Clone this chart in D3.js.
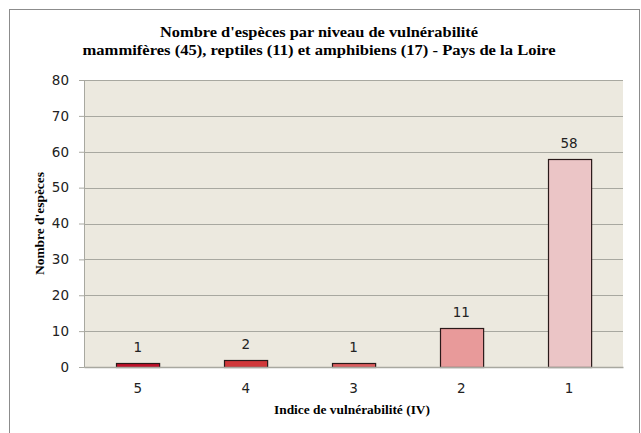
<!DOCTYPE html>
<html>
<head>
<meta charset="utf-8">
<script src="https://cdn.jsdelivr.net/npm/d3@7"></script>
<style>
  html, body { margin: 0; padding: 0; background: #fff; }
</style>
</head>
<body>
<div id="chart"></div>
<script>
const TITLE_LINES = [
  "Nombre d'espèces par niveau de vulnérabilité",
  'mammifères (45), reptiles (11) et amphibiens (17) - Pays de la Loire'
];
const Y_TITLE = "Nombre d'espèces";
const X_TITLE = 'Indice de vulnérabilité (IV)';

const categories = ['5', '4', '3', '2', '1'];
const counts     = [1, 2, 1, 11, 58];
const barColors  = ['#C0102A', '#D0383A', '#DE5E60', '#E89A9A', '#EBC5C6'];
const yTicks     = [0, 10, 20, 30, 40, 50, 60, 70, 80];

const WIDTH = 641, HEIGHT = 433;
const plot = { left: 84, right: 623, top: 80, bottom: 367 };
const SERIF = '"Liberation Serif", "Times New Roman", serif';
const SANS = '"DejaVu Sans", Verdana, sans-serif';

const svg = d3.select('#chart').append('svg')
  .attr('width', WIDTH)
  .attr('height', HEIGHT);

// outer frame
svg.append('rect')
  .attr('x', 9.5).attr('y', 9.5)
  .attr('width', 630).attr('height', 440)
  .attr('fill', '#fff')
  .attr('stroke', '#8c8c8c');

// title (reference font is a bit wide, so stretch to its measured widths)
const titleWidths = [318, 473];
TITLE_LINES.forEach((t, i) => {
  svg.append('text')
    .attr('x', 319)
    .attr('y', 37 + i * 18)
    .attr('text-anchor', 'middle')
    .attr('font-family', SERIF)
    .attr('font-weight', 'bold')
    .attr('font-size', '15px')
    .attr('textLength', titleWidths[i])
    .attr('lengthAdjust', 'spacingAndGlyphs')
    .text(t);
});

const x = d3.scaleBand()
  .domain(categories)
  .range([plot.left, plot.right])
  .paddingInner(0.6)
  .paddingOuter(0.3);

const y = d3.scaleLinear()
  .domain([0, 80])
  .range([plot.bottom, plot.top]);

// plot background
svg.append('rect')
  .attr('x', plot.left).attr('y', plot.top)
  .attr('width', plot.right - plot.left)
  .attr('height', plot.bottom - plot.top)
  .attr('fill', '#ECE9DF');

// Y axis
const yAxis = svg.append('g')
  .attr('transform', `translate(${plot.left},0)`)
  .call(d3.axisLeft(y).tickValues(yTicks).tickSize(5).tickPadding(10));
yAxis.select('.domain').attr('stroke', '#a8a8a0');
yAxis.selectAll('.tick line').attr('stroke', '#a8a8a0');
yAxis.selectAll('text')
  .attr('font-family', SANS)
  .attr('font-size', '13.5px')
  .attr('fill', '#222');

// gridlines
svg.append('g')
  .selectAll('line')
  .data(yTicks.filter(d => d > 0))
  .join('line')
  .attr('x1', plot.left).attr('x2', plot.right)
  .attr('y1', d => Math.round(y(d)) + 0.5).attr('y2', d => Math.round(y(d)) + 0.5)
  .attr('stroke', '#a8a8a0');

// bars
svg.append('g')
  .selectAll('rect')
  .data(counts)
  .join('rect')
  .attr('x', (d, i) => Math.round(x(categories[i])) + 0.5)
  .attr('y', d => Math.round(y(d)) + 0.5)
  .attr('width', x.bandwidth())
  .attr('height', d => y(0) - Math.round(y(d)))
  .attr('fill', (d, i) => barColors[i])
  .attr('stroke', '#2a1a1a')
  .attr('stroke-width', 1.2);

// X axis
const xAxis = svg.append('g')
  .attr('transform', `translate(0,${plot.bottom})`)
  .call(d3.axisBottom(x).tickSize(0).tickPadding(16));
xAxis.select('.domain').attr('stroke', '#a8a8a0').attr('stroke-width', 1.5);
xAxis.selectAll('text')
  .attr('font-family', SANS)
  .attr('font-size', '13.5px')
  .attr('fill', '#222');

// value labels
svg.append('g')
  .selectAll('text')
  .data(counts)
  .join('text')
  .attr('x', (d, i) => x(categories[i]) + x.bandwidth() / 2)
  .attr('y', d => y(d) - 11)
  .attr('text-anchor', 'middle')
  .attr('font-family', SANS)
  .attr('font-size', '13.5px')
  .attr('fill', '#222')
  .text(d => d);

// axis titles
svg.append('text')
  .attr('x', 352)
  .attr('y', 414)
  .attr('text-anchor', 'middle')
  .attr('font-family', SERIF)
  .attr('font-weight', 'bold')
  .attr('font-size', '13px')
  .attr('textLength', 156)
  .attr('lengthAdjust', 'spacingAndGlyphs')
  .text(X_TITLE);

svg.append('text')
  .attr('transform', `translate(44,${(plot.top + plot.bottom) / 2}) rotate(-90)`)
  .attr('text-anchor', 'middle')
  .attr('font-family', SERIF)
  .attr('font-weight', 'bold')
  .attr('font-size', '13px')
  .attr('textLength', 103)
  .attr('lengthAdjust', 'spacingAndGlyphs')
  .text(Y_TITLE);
</script>
</body>
</html>
